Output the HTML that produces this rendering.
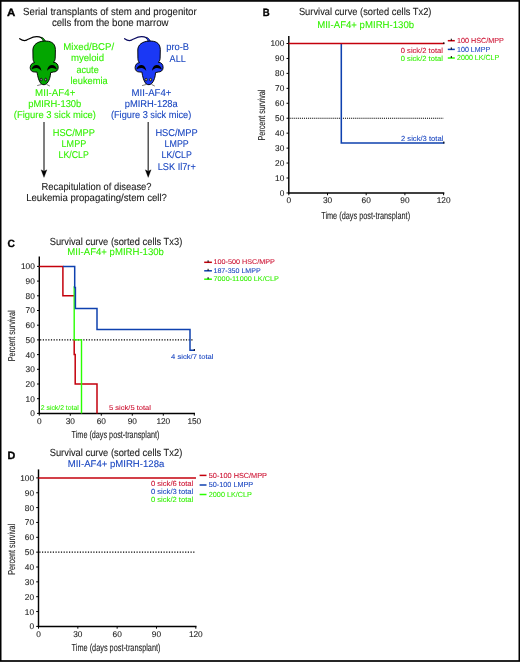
<!DOCTYPE html>
<html><head><meta charset="utf-8">
<style>
html,body{margin:0;padding:0;background:#fff;}
body{width:520px;height:662px;overflow:hidden;position:relative;}
svg{position:absolute;left:0;top:0;will-change:transform;text-rendering:geometricPrecision;font-family:"Liberation Sans",sans-serif;}
</style></head><body>
<svg width="520" height="662" viewBox="0 0 520 662">
<rect x="0.65" y="0.9" width="518.7" height="660.1" fill="none" stroke="#000" stroke-width="1.7"/>
<text x="6.90" y="16.40" font-size="10.5" fill="#000" stroke="#000" stroke-width="0.35" text-anchor="start" font-weight="bold" textLength="8.30" lengthAdjust="spacingAndGlyphs">A</text>
<text x="23.10" y="14.90" font-size="10.4" fill="#1a1a1a" stroke="#1a1a1a" stroke-width="0.1" text-anchor="start" font-weight="normal" textLength="173.60" lengthAdjust="spacingAndGlyphs">Serial transplants of stem and progenitor</text>
<text x="51.90" y="26.10" font-size="10.4" fill="#1a1a1a" stroke="#1a1a1a" stroke-width="0.1" text-anchor="start" font-weight="normal" textLength="116.70" lengthAdjust="spacingAndGlyphs">cells from the bone marrow</text>
<g transform="translate(0,0)">
<path d="M19.7 38.7 C22 40.3 24.3 41.1 26.6 40.1 C29.8 38.7 32.8 36.6 36.8 36.7 C40.3 36.8 42.8 37.9 44.2 40.8" stroke="#000" stroke-width="1.25" fill="none" stroke-linecap="round"/>
<path d="M41.6 37.3 C43.3 37.9 44.6 39.2 45.6 41.3 L43.2 41.6 C42.8 40 42.2 38.8 41.2 38.1 Z" fill="#03a600" stroke="#111" stroke-width="0.6"/>
<path d="M44.3 41.1 C49.8 40.8 55.2 42.3 55.4 49.5 L55.2 58.5 C55 60.5 54.2 61.7 53.4 62.3 C56.4 62.2 58.4 64.6 58.2 67.8 C58 70.6 56 72 53.4 72 L50.6 72.6 C50.6 76.2 49.2 81.2 46.8 83.5 C45.3 84.9 43 85.1 41.4 84 C39 82 37.6 76.2 37 72.1 L34.6 72 C31.9 72 30.1 70.4 30.2 67.6 C30.3 64.8 32 62.8 34.6 62.6 C33.6 61.6 33 60.3 33 58.5 L32.9 50 C32.9 44.8 37.5 41.3 44.3 41.1 Z" fill="#03a600" stroke="#000" stroke-width="0.95"/>
<path d="M31.5 69.8 C31.9 66.1 34.4 64.7 36.9 64.9 C39.3 65.2 40.9 67.2 41.4 71.0 C40 69.1 38.6 68.1 36.6 67.9 C34.6 67.8 32.9 68.5 31.5 69.8 Z" fill="#000"/>
<path d="M56.9 69.8 C56.5 66.1 54.0 64.7 51.5 64.9 C49.1 65.2 47.5 67.2 47.0 71.0 C48.4 69.1 49.8 68.1 51.8 67.9 C53.8 67.8 55.5 68.5 56.9 69.8 Z" fill="#000"/>
<ellipse cx="41.2" cy="79.6" rx="1.0" ry="1.35" fill="#a898a8" stroke="#000" stroke-width="0.75"/>
<ellipse cx="45.7" cy="79.6" rx="1.0" ry="1.35" fill="#a898a8" stroke="#000" stroke-width="0.75"/>
<path d="M37.2 85.6 L41.6 84.4 M46.6 84.4 L49.9 86.1" stroke="#222" stroke-width="0.6" fill="none"/>
</g>
<g transform="translate(104.9,0)">
<path d="M19.7 38.7 C22 40.3 24.3 41.1 26.6 40.1 C29.8 38.7 32.8 36.6 36.8 36.7 C40.3 36.8 42.8 37.9 44.2 40.8" stroke="#0a0a60" stroke-width="1.25" fill="none" stroke-linecap="round"/>
<path d="M41.6 37.3 C43.3 37.9 44.6 39.2 45.6 41.3 L43.2 41.6 C42.8 40 42.2 38.8 41.2 38.1 Z" fill="#1a38f5" stroke="#111" stroke-width="0.6"/>
<path d="M44.3 41.1 C49.8 40.8 55.2 42.3 55.4 49.5 L55.2 58.5 C55 60.5 54.2 61.7 53.4 62.3 C56.4 62.2 58.4 64.6 58.2 67.8 C58 70.6 56 72 53.4 72 L50.6 72.6 C50.6 76.2 49.2 81.2 46.8 83.5 C45.3 84.9 43 85.1 41.4 84 C39 82 37.6 76.2 37 72.1 L34.6 72 C31.9 72 30.1 70.4 30.2 67.6 C30.3 64.8 32 62.8 34.6 62.6 C33.6 61.6 33 60.3 33 58.5 L32.9 50 C32.9 44.8 37.5 41.3 44.3 41.1 Z" fill="#1a38f5" stroke="#000" stroke-width="0.95"/>
<path d="M31.5 69.8 C31.9 66.1 34.4 64.7 36.9 64.9 C39.3 65.2 40.9 67.2 41.4 71.0 C40 69.1 38.6 68.1 36.6 67.9 C34.6 67.8 32.9 68.5 31.5 69.8 Z" fill="#000"/>
<path d="M56.9 69.8 C56.5 66.1 54.0 64.7 51.5 64.9 C49.1 65.2 47.5 67.2 47.0 71.0 C48.4 69.1 49.8 68.1 51.8 67.9 C53.8 67.8 55.5 68.5 56.9 69.8 Z" fill="#000"/>
<ellipse cx="41.2" cy="79.6" rx="1.0" ry="1.35" fill="#d8c890" stroke="#000" stroke-width="0.75"/>
<ellipse cx="45.7" cy="79.6" rx="1.0" ry="1.35" fill="#d8c890" stroke="#000" stroke-width="0.75"/>
<path d="M37.2 85.6 L41.6 84.4 M46.6 84.4 L49.9 86.1" stroke="#222" stroke-width="0.6" fill="none"/>
</g>
<text x="63.30" y="50.10" font-size="9.9" fill="#33f000" stroke="#33f000" stroke-width="0.1" text-anchor="start" font-weight="normal" textLength="50.90" lengthAdjust="spacingAndGlyphs">Mixed/BCP/</text>
<text x="70.90" y="61.30" font-size="9.9" fill="#33f000" stroke="#33f000" stroke-width="0.1" text-anchor="start" font-weight="normal" textLength="33.20" lengthAdjust="spacingAndGlyphs">myeloid</text>
<text x="76.50" y="72.50" font-size="9.9" fill="#33f000" stroke="#33f000" stroke-width="0.1" text-anchor="start" font-weight="normal" textLength="22.20" lengthAdjust="spacingAndGlyphs">acute</text>
<text x="70.50" y="83.70" font-size="9.9" fill="#33f000" stroke="#33f000" stroke-width="0.1" text-anchor="start" font-weight="normal" textLength="37.30" lengthAdjust="spacingAndGlyphs">leukemia</text>
<text x="35.10" y="95.50" font-size="9.9" fill="#33f000" stroke="#33f000" stroke-width="0.1" text-anchor="start" font-weight="normal" textLength="40.30" lengthAdjust="spacingAndGlyphs">MII-AF4+</text>
<text x="28.20" y="106.90" font-size="9.9" fill="#33f000" stroke="#33f000" stroke-width="0.1" text-anchor="start" font-weight="normal" textLength="53.10" lengthAdjust="spacingAndGlyphs">pMIRH-130b</text>
<text x="13.80" y="118.30" font-size="9.9" fill="#33f000" stroke="#33f000" stroke-width="0.1" text-anchor="start" font-weight="normal" textLength="82.20" lengthAdjust="spacingAndGlyphs">(Figure 3 sick mice)</text>
<text x="166.20" y="50.40" font-size="9.9" fill="#1a46c0" stroke="#1a46c0" stroke-width="0.1" text-anchor="start" font-weight="normal" textLength="22.90" lengthAdjust="spacingAndGlyphs">pro-B</text>
<text x="169.60" y="61.50" font-size="9.9" fill="#1a46c0" stroke="#1a46c0" stroke-width="0.1" text-anchor="start" font-weight="normal" textLength="16.20" lengthAdjust="spacingAndGlyphs">ALL</text>
<text x="131.60" y="95.50" font-size="9.9" fill="#1a46c0" stroke="#1a46c0" stroke-width="0.1" text-anchor="start" font-weight="normal" textLength="39.80" lengthAdjust="spacingAndGlyphs">MII-AF4+</text>
<text x="124.70" y="106.90" font-size="9.9" fill="#1a46c0" stroke="#1a46c0" stroke-width="0.1" text-anchor="start" font-weight="normal" textLength="53.10" lengthAdjust="spacingAndGlyphs">pMIRH-128a</text>
<text x="110.90" y="118.30" font-size="9.9" fill="#1a46c0" stroke="#1a46c0" stroke-width="0.1" text-anchor="start" font-weight="normal" textLength="80.40" lengthAdjust="spacingAndGlyphs">(Figure 3 sick mice)</text>
<line x1="44.00" y1="122.00" x2="44.00" y2="171.00" stroke="#3a3a3a" stroke-width="1.3"/>
<path d="M41.10 169.8 L44.00 171.3 L46.90 169.8 L44.00 177.4 Z" fill="#000" stroke="#000" stroke-width="0.3"/>
<line x1="148.20" y1="122.00" x2="148.20" y2="171.00" stroke="#3a3a3a" stroke-width="1.3"/>
<path d="M145.30 169.8 L148.20 171.3 L151.10 169.8 L148.20 177.4 Z" fill="#000" stroke="#000" stroke-width="0.3"/>
<text x="52.70" y="135.80" font-size="9.9" fill="#33f000" stroke="#33f000" stroke-width="0.1" text-anchor="start" font-weight="normal" textLength="42.30" lengthAdjust="spacingAndGlyphs">HSC/MPP</text>
<text x="61.60" y="147.00" font-size="9.9" fill="#33f000" stroke="#33f000" stroke-width="0.1" text-anchor="start" font-weight="normal" textLength="24.60" lengthAdjust="spacingAndGlyphs">LMPP</text>
<text x="58.50" y="158.40" font-size="9.9" fill="#33f000" stroke="#33f000" stroke-width="0.1" text-anchor="start" font-weight="normal" textLength="30.30" lengthAdjust="spacingAndGlyphs">LK/CLP</text>
<text x="155.40" y="135.80" font-size="9.9" fill="#1a46c0" stroke="#1a46c0" stroke-width="0.1" text-anchor="start" font-weight="normal" textLength="42.30" lengthAdjust="spacingAndGlyphs">HSC/MPP</text>
<text x="164.60" y="147.00" font-size="9.9" fill="#1a46c0" stroke="#1a46c0" stroke-width="0.1" text-anchor="start" font-weight="normal" textLength="24.20" lengthAdjust="spacingAndGlyphs">LMPP</text>
<text x="161.50" y="158.40" font-size="9.9" fill="#1a46c0" stroke="#1a46c0" stroke-width="0.1" text-anchor="start" font-weight="normal" textLength="30.30" lengthAdjust="spacingAndGlyphs">LK/CLP</text>
<text x="157.70" y="169.60" font-size="9.9" fill="#1a46c0" stroke="#1a46c0" stroke-width="0.1" text-anchor="start" font-weight="normal" textLength="38.10" lengthAdjust="spacingAndGlyphs">LSK Il7r+</text>
<text x="41.50" y="189.60" font-size="10.2" fill="#1a1a1a" stroke="#1a1a1a" stroke-width="0.1" text-anchor="start" font-weight="normal" textLength="110.00" lengthAdjust="spacingAndGlyphs">Recapitulation of disease?</text>
<text x="26.20" y="200.90" font-size="10.2" fill="#1a1a1a" stroke="#1a1a1a" stroke-width="0.1" text-anchor="start" font-weight="normal" textLength="140.70" lengthAdjust="spacingAndGlyphs">Leukemia propagating/stem cell?</text>
<text x="262.80" y="16.40" font-size="10.5" fill="#000" stroke="#000" stroke-width="0.35" text-anchor="start" font-weight="bold" textLength="6.90" lengthAdjust="spacingAndGlyphs">B</text>
<text x="298.90" y="15.10" font-size="10.3" fill="#1a1a1a" stroke="#1a1a1a" stroke-width="0.1" text-anchor="start" font-weight="normal" textLength="132.60" lengthAdjust="spacingAndGlyphs">Survival curve (sorted cells Tx2)</text>
<text x="317.20" y="27.80" font-size="9.7" fill="#33f000" stroke="#33f000" stroke-width="0.1" text-anchor="start" font-weight="normal" textLength="96.90" lengthAdjust="spacingAndGlyphs">MII-AF4+ pMIRH-130b</text>
<line x1="288.80" y1="36.00" x2="288.80" y2="193.65" stroke="#000" stroke-width="1.45"/>
<line x1="288.10" y1="192.95" x2="444.30" y2="192.95" stroke="#000" stroke-width="1.45"/>
<line x1="286.50" y1="192.95" x2="288.80" y2="192.95" stroke="#000" stroke-width="1.0"/>
<text x="284.30" y="195.90" font-size="8.3" fill="#222" stroke="#222" stroke-width="0.1" text-anchor="end" font-weight="normal">0</text>
<line x1="286.50" y1="178.00" x2="288.80" y2="178.00" stroke="#000" stroke-width="1.0"/>
<text x="284.30" y="180.95" font-size="8.3" fill="#222" stroke="#222" stroke-width="0.1" text-anchor="end" font-weight="normal">10</text>
<line x1="286.50" y1="163.06" x2="288.80" y2="163.06" stroke="#000" stroke-width="1.0"/>
<text x="284.30" y="166.01" font-size="8.3" fill="#222" stroke="#222" stroke-width="0.1" text-anchor="end" font-weight="normal">20</text>
<line x1="286.50" y1="148.11" x2="288.80" y2="148.11" stroke="#000" stroke-width="1.0"/>
<text x="284.30" y="151.06" font-size="8.3" fill="#222" stroke="#222" stroke-width="0.1" text-anchor="end" font-weight="normal">30</text>
<line x1="286.50" y1="133.17" x2="288.80" y2="133.17" stroke="#000" stroke-width="1.0"/>
<text x="284.30" y="136.12" font-size="8.3" fill="#222" stroke="#222" stroke-width="0.1" text-anchor="end" font-weight="normal">40</text>
<line x1="286.50" y1="118.22" x2="288.80" y2="118.22" stroke="#000" stroke-width="1.0"/>
<text x="284.30" y="121.17" font-size="8.3" fill="#222" stroke="#222" stroke-width="0.1" text-anchor="end" font-weight="normal">50</text>
<line x1="286.50" y1="103.28" x2="288.80" y2="103.28" stroke="#000" stroke-width="1.0"/>
<text x="284.30" y="106.23" font-size="8.3" fill="#222" stroke="#222" stroke-width="0.1" text-anchor="end" font-weight="normal">60</text>
<line x1="286.50" y1="88.33" x2="288.80" y2="88.33" stroke="#000" stroke-width="1.0"/>
<text x="284.30" y="91.28" font-size="8.3" fill="#222" stroke="#222" stroke-width="0.1" text-anchor="end" font-weight="normal">70</text>
<line x1="286.50" y1="73.39" x2="288.80" y2="73.39" stroke="#000" stroke-width="1.0"/>
<text x="284.30" y="76.34" font-size="8.3" fill="#222" stroke="#222" stroke-width="0.1" text-anchor="end" font-weight="normal">80</text>
<line x1="286.50" y1="58.44" x2="288.80" y2="58.44" stroke="#000" stroke-width="1.0"/>
<text x="284.30" y="61.39" font-size="8.3" fill="#222" stroke="#222" stroke-width="0.1" text-anchor="end" font-weight="normal">90</text>
<line x1="286.50" y1="43.50" x2="288.80" y2="43.50" stroke="#000" stroke-width="1.0"/>
<text x="284.30" y="46.45" font-size="8.3" fill="#222" stroke="#222" stroke-width="0.1" text-anchor="end" font-weight="normal">100</text>
<line x1="288.80" y1="192.95" x2="288.80" y2="195.25" stroke="#000" stroke-width="1.0"/>
<text x="288.80" y="203.00" font-size="8.3" fill="#222" stroke="#222" stroke-width="0.1" text-anchor="middle" font-weight="normal">0</text>
<line x1="327.50" y1="192.95" x2="327.50" y2="195.25" stroke="#000" stroke-width="1.0"/>
<text x="327.50" y="203.00" font-size="8.3" fill="#222" stroke="#222" stroke-width="0.1" text-anchor="middle" font-weight="normal">30</text>
<line x1="366.20" y1="192.95" x2="366.20" y2="195.25" stroke="#000" stroke-width="1.0"/>
<text x="366.20" y="203.00" font-size="8.3" fill="#222" stroke="#222" stroke-width="0.1" text-anchor="middle" font-weight="normal">60</text>
<line x1="404.90" y1="192.95" x2="404.90" y2="195.25" stroke="#000" stroke-width="1.0"/>
<text x="404.90" y="203.00" font-size="8.3" fill="#222" stroke="#222" stroke-width="0.1" text-anchor="middle" font-weight="normal">90</text>
<line x1="443.60" y1="192.95" x2="443.60" y2="195.25" stroke="#000" stroke-width="1.0"/>
<text x="443.60" y="203.00" font-size="8.3" fill="#222" stroke="#222" stroke-width="0.1" text-anchor="middle" font-weight="normal">120</text>
<text x="321.20" y="218.90" font-size="10.2" fill="#222" stroke="#222" stroke-width="0.1" text-anchor="start" font-weight="normal" textLength="88.90" lengthAdjust="spacingAndGlyphs">Time (days post-transplant)</text>
<text transform="translate(265.10,140.40) rotate(-90)" font-size="10.0" fill="#222" stroke="#222" stroke-width="0.1" textLength="50.70" lengthAdjust="spacingAndGlyphs">Percent survival</text>
<line x1="289.60" y1="118.22" x2="443.60" y2="118.22" stroke="#000" stroke-width="1.1" stroke-dasharray="1.1 0.95"/>
<path d="M341.3 44.30 L341.3 142.9 L443.60 142.9" stroke="#0f41af" stroke-width="1.55" fill="none" stroke-linejoin="miter" stroke-linecap="square"/>
<path d="M289.50 43.50 L443.60 43.50" stroke="#c4000c" stroke-width="1.55" fill="none" stroke-linejoin="miter" stroke-linecap="square"/>
<line x1="443.80" y1="42.20" x2="443.80" y2="44.10" stroke="#000" stroke-width="1.1"/>
<line x1="443.80" y1="141.60" x2="443.80" y2="143.50" stroke="#000" stroke-width="1.1"/>
<text x="400.80" y="52.90" font-size="7.4" fill="#cc1030" stroke="#cc1030" stroke-width="0.08" text-anchor="start" font-weight="normal" textLength="42.10" lengthAdjust="spacingAndGlyphs">0 sick/2 total</text>
<text x="400.80" y="61.00" font-size="7.4" fill="#33f000" stroke="#33f000" stroke-width="0.08" text-anchor="start" font-weight="normal" textLength="42.10" lengthAdjust="spacingAndGlyphs">0 sick/2 total</text>
<text x="401.00" y="140.60" font-size="7.4" fill="#1a46c0" stroke="#1a46c0" stroke-width="0.08" text-anchor="start" font-weight="normal" textLength="42.30" lengthAdjust="spacingAndGlyphs">2 sick/3 total</text>
<line x1="447.80" y1="40.70" x2="454.80" y2="40.70" stroke="#c4000c" stroke-width="1.5"/>
<line x1="451.30" y1="38.70" x2="451.30" y2="40.70" stroke="#000" stroke-width="1.0"/>
<text x="457.10" y="42.80" font-size="7.4" fill="#cc1030" stroke="#cc1030" stroke-width="0.08" text-anchor="start" font-weight="normal" textLength="46.70" lengthAdjust="spacingAndGlyphs">100 HSC/MPP</text>
<line x1="447.80" y1="49.40" x2="454.80" y2="49.40" stroke="#0f41af" stroke-width="1.5"/>
<line x1="451.30" y1="47.40" x2="451.30" y2="49.40" stroke="#000" stroke-width="1.0"/>
<text x="457.10" y="51.50" font-size="7.4" fill="#1a46c0" stroke="#1a46c0" stroke-width="0.08" text-anchor="start" font-weight="normal" textLength="33.00" lengthAdjust="spacingAndGlyphs">100 LMPP</text>
<line x1="447.80" y1="58.00" x2="454.80" y2="58.00" stroke="#2aff00" stroke-width="1.5"/>
<line x1="451.30" y1="56.00" x2="451.30" y2="58.00" stroke="#000" stroke-width="1.0"/>
<text x="457.10" y="60.10" font-size="7.4" fill="#33f000" stroke="#33f000" stroke-width="0.08" text-anchor="start" font-weight="normal" textLength="42.20" lengthAdjust="spacingAndGlyphs">2000 LK/CLP</text>
<text x="7.40" y="247.20" font-size="10.5" fill="#000" stroke="#000" stroke-width="0.35" text-anchor="start" font-weight="bold" textLength="7.40" lengthAdjust="spacingAndGlyphs">C</text>
<text x="49.70" y="244.60" font-size="10.3" fill="#1a1a1a" stroke="#1a1a1a" stroke-width="0.1" text-anchor="start" font-weight="normal" textLength="132.60" lengthAdjust="spacingAndGlyphs">Survival curve (sorted cells Tx3)</text>
<text x="67.30" y="255.40" font-size="9.7" fill="#33f000" stroke="#33f000" stroke-width="0.1" text-anchor="start" font-weight="normal" textLength="96.60" lengthAdjust="spacingAndGlyphs">MII-AF4+ pMIRH-130b</text>
<line x1="39.30" y1="256.50" x2="39.30" y2="414.10" stroke="#000" stroke-width="1.45"/>
<line x1="38.60" y1="413.40" x2="195.00" y2="413.40" stroke="#000" stroke-width="1.45"/>
<line x1="37.00" y1="413.40" x2="39.30" y2="413.40" stroke="#000" stroke-width="1.0"/>
<text x="34.80" y="416.35" font-size="8.3" fill="#222" stroke="#222" stroke-width="0.1" text-anchor="end" font-weight="normal">0</text>
<line x1="37.00" y1="398.70" x2="39.30" y2="398.70" stroke="#000" stroke-width="1.0"/>
<text x="34.80" y="401.65" font-size="8.3" fill="#222" stroke="#222" stroke-width="0.1" text-anchor="end" font-weight="normal">10</text>
<line x1="37.00" y1="384.00" x2="39.30" y2="384.00" stroke="#000" stroke-width="1.0"/>
<text x="34.80" y="386.95" font-size="8.3" fill="#222" stroke="#222" stroke-width="0.1" text-anchor="end" font-weight="normal">20</text>
<line x1="37.00" y1="369.30" x2="39.30" y2="369.30" stroke="#000" stroke-width="1.0"/>
<text x="34.80" y="372.25" font-size="8.3" fill="#222" stroke="#222" stroke-width="0.1" text-anchor="end" font-weight="normal">30</text>
<line x1="37.00" y1="354.60" x2="39.30" y2="354.60" stroke="#000" stroke-width="1.0"/>
<text x="34.80" y="357.55" font-size="8.3" fill="#222" stroke="#222" stroke-width="0.1" text-anchor="end" font-weight="normal">40</text>
<line x1="37.00" y1="339.90" x2="39.30" y2="339.90" stroke="#000" stroke-width="1.0"/>
<text x="34.80" y="342.85" font-size="8.3" fill="#222" stroke="#222" stroke-width="0.1" text-anchor="end" font-weight="normal">50</text>
<line x1="37.00" y1="325.20" x2="39.30" y2="325.20" stroke="#000" stroke-width="1.0"/>
<text x="34.80" y="328.15" font-size="8.3" fill="#222" stroke="#222" stroke-width="0.1" text-anchor="end" font-weight="normal">60</text>
<line x1="37.00" y1="310.50" x2="39.30" y2="310.50" stroke="#000" stroke-width="1.0"/>
<text x="34.80" y="313.45" font-size="8.3" fill="#222" stroke="#222" stroke-width="0.1" text-anchor="end" font-weight="normal">70</text>
<line x1="37.00" y1="295.80" x2="39.30" y2="295.80" stroke="#000" stroke-width="1.0"/>
<text x="34.80" y="298.75" font-size="8.3" fill="#222" stroke="#222" stroke-width="0.1" text-anchor="end" font-weight="normal">80</text>
<line x1="37.00" y1="281.10" x2="39.30" y2="281.10" stroke="#000" stroke-width="1.0"/>
<text x="34.80" y="284.05" font-size="8.3" fill="#222" stroke="#222" stroke-width="0.1" text-anchor="end" font-weight="normal">90</text>
<line x1="37.00" y1="266.40" x2="39.30" y2="266.40" stroke="#000" stroke-width="1.0"/>
<text x="34.80" y="269.35" font-size="8.3" fill="#222" stroke="#222" stroke-width="0.1" text-anchor="end" font-weight="normal">100</text>
<line x1="39.30" y1="413.40" x2="39.30" y2="415.70" stroke="#000" stroke-width="1.0"/>
<text x="39.30" y="424.30" font-size="8.3" fill="#222" stroke="#222" stroke-width="0.1" text-anchor="middle" font-weight="normal">0</text>
<line x1="70.30" y1="413.40" x2="70.30" y2="415.70" stroke="#000" stroke-width="1.0"/>
<text x="70.30" y="424.30" font-size="8.3" fill="#222" stroke="#222" stroke-width="0.1" text-anchor="middle" font-weight="normal">30</text>
<line x1="101.30" y1="413.40" x2="101.30" y2="415.70" stroke="#000" stroke-width="1.0"/>
<text x="101.30" y="424.30" font-size="8.3" fill="#222" stroke="#222" stroke-width="0.1" text-anchor="middle" font-weight="normal">60</text>
<line x1="132.30" y1="413.40" x2="132.30" y2="415.70" stroke="#000" stroke-width="1.0"/>
<text x="132.30" y="424.30" font-size="8.3" fill="#222" stroke="#222" stroke-width="0.1" text-anchor="middle" font-weight="normal">90</text>
<line x1="163.30" y1="413.40" x2="163.30" y2="415.70" stroke="#000" stroke-width="1.0"/>
<text x="163.30" y="424.30" font-size="8.3" fill="#222" stroke="#222" stroke-width="0.1" text-anchor="middle" font-weight="normal">120</text>
<line x1="194.30" y1="413.40" x2="194.30" y2="415.70" stroke="#000" stroke-width="1.0"/>
<text x="194.30" y="424.30" font-size="8.3" fill="#222" stroke="#222" stroke-width="0.1" text-anchor="middle" font-weight="normal">150</text>
<text x="71.60" y="437.80" font-size="10.2" fill="#222" stroke="#222" stroke-width="0.1" text-anchor="start" font-weight="normal" textLength="87.80" lengthAdjust="spacingAndGlyphs">Time (days post-transplant)</text>
<text transform="translate(15.10,361.30) rotate(-90)" font-size="10.0" fill="#222" stroke="#222" stroke-width="0.1" textLength="50.80" lengthAdjust="spacingAndGlyphs">Percent survival</text>
<line x1="40.10" y1="339.90" x2="193.7" y2="339.90" stroke="#000" stroke-width="1.2" stroke-dasharray="1.2 1.5"/>
<path d="M40.00 266.40 L62.9 266.40 L62.9 295.80 L73.5 295.80" stroke="#c4000c" stroke-width="1.5" fill="none" stroke-linejoin="miter" stroke-linecap="square"/>
<path d="M74.2 339.90 L74.2 354.60 L75.2 354.60 L75.2 384.00 L97.0 384.00 L97.0 412.70" stroke="#c4000c" stroke-width="1.5" fill="none" stroke-linejoin="miter" stroke-linecap="square"/>
<path d="M74.2 286.98 L74.2 339.90 L81.5 339.90 L81.5 412.70" stroke="#2aff00" stroke-width="1.4" fill="none" stroke-linejoin="miter" stroke-linecap="square"/>
<path d="M63.7 266.40 L74.7 266.40 L74.7 287.42 L75.4 287.42 L75.4 308.44 L97.0 308.44 L97.0 329.46 L190.0 329.46 L190.0 350.34 L194.1 350.34" stroke="#0f41af" stroke-width="1.5" fill="none" stroke-linejoin="miter" stroke-linecap="square"/>
<line x1="194.30" y1="349.04" x2="194.30" y2="350.84" stroke="#000" stroke-width="1.1"/>
<text x="40.80" y="409.60" font-size="7.0" fill="#33f000" stroke="#33f000" stroke-width="0.08" text-anchor="start" font-weight="normal" textLength="38.00" lengthAdjust="spacingAndGlyphs">2 sick/2 total</text>
<text x="109.00" y="409.50" font-size="7.0" fill="#cc1030" stroke="#cc1030" stroke-width="0.08" text-anchor="start" font-weight="normal" textLength="42.00" lengthAdjust="spacingAndGlyphs">5 sick/5 total</text>
<text x="171.10" y="359.00" font-size="7.0" fill="#1a46c0" stroke="#1a46c0" stroke-width="0.08" text-anchor="start" font-weight="normal" textLength="42.40" lengthAdjust="spacingAndGlyphs">4 sick/7 total</text>
<line x1="204.20" y1="262.30" x2="211.90" y2="262.30" stroke="#c4000c" stroke-width="1.5"/>
<line x1="208.10" y1="260.30" x2="208.10" y2="262.30" stroke="#000" stroke-width="1.0"/>
<text x="213.50" y="264.30" font-size="6.9" fill="#cc1030" stroke="#cc1030" stroke-width="0.08" text-anchor="start" font-weight="normal" textLength="61.40" lengthAdjust="spacingAndGlyphs">100-500 HSC/MPP</text>
<line x1="204.20" y1="270.80" x2="211.90" y2="270.80" stroke="#0f41af" stroke-width="1.5"/>
<line x1="208.10" y1="268.80" x2="208.10" y2="270.80" stroke="#000" stroke-width="1.0"/>
<text x="213.50" y="272.80" font-size="6.9" fill="#1a46c0" stroke="#1a46c0" stroke-width="0.08" text-anchor="start" font-weight="normal" textLength="47.20" lengthAdjust="spacingAndGlyphs">187-350 LMPP</text>
<line x1="204.20" y1="279.20" x2="211.90" y2="279.20" stroke="#2aff00" stroke-width="1.5"/>
<line x1="208.10" y1="277.20" x2="208.10" y2="279.20" stroke="#000" stroke-width="1.0"/>
<text x="213.50" y="281.20" font-size="6.9" fill="#33f000" stroke="#33f000" stroke-width="0.08" text-anchor="start" font-weight="normal" textLength="65.40" lengthAdjust="spacingAndGlyphs">7000-11000 LK/CLP</text>
<text x="7.40" y="458.80" font-size="10.5" fill="#000" stroke="#000" stroke-width="0.35" text-anchor="start" font-weight="bold" textLength="7.80" lengthAdjust="spacingAndGlyphs">D</text>
<text x="49.70" y="455.90" font-size="10.3" fill="#1a1a1a" stroke="#1a1a1a" stroke-width="0.1" text-anchor="start" font-weight="normal" textLength="132.60" lengthAdjust="spacingAndGlyphs">Survival curve (sorted cells Tx2)</text>
<text x="67.70" y="466.80" font-size="9.7" fill="#1a46c0" stroke="#1a46c0" stroke-width="0.1" text-anchor="start" font-weight="normal" textLength="96.60" lengthAdjust="spacingAndGlyphs">MII-AF4+ pMIRH-128a</text>
<line x1="38.50" y1="469.40" x2="38.50" y2="627.10" stroke="#000" stroke-width="1.45"/>
<line x1="37.80" y1="626.40" x2="196.50" y2="626.40" stroke="#000" stroke-width="1.45"/>
<line x1="36.20" y1="626.40" x2="38.50" y2="626.40" stroke="#000" stroke-width="1.0"/>
<text x="34.00" y="629.35" font-size="8.3" fill="#222" stroke="#222" stroke-width="0.1" text-anchor="end" font-weight="normal">0</text>
<line x1="36.20" y1="611.55" x2="38.50" y2="611.55" stroke="#000" stroke-width="1.0"/>
<text x="34.00" y="614.50" font-size="8.3" fill="#222" stroke="#222" stroke-width="0.1" text-anchor="end" font-weight="normal">10</text>
<line x1="36.20" y1="596.70" x2="38.50" y2="596.70" stroke="#000" stroke-width="1.0"/>
<text x="34.00" y="599.65" font-size="8.3" fill="#222" stroke="#222" stroke-width="0.1" text-anchor="end" font-weight="normal">20</text>
<line x1="36.20" y1="581.85" x2="38.50" y2="581.85" stroke="#000" stroke-width="1.0"/>
<text x="34.00" y="584.80" font-size="8.3" fill="#222" stroke="#222" stroke-width="0.1" text-anchor="end" font-weight="normal">30</text>
<line x1="36.20" y1="567.00" x2="38.50" y2="567.00" stroke="#000" stroke-width="1.0"/>
<text x="34.00" y="569.95" font-size="8.3" fill="#222" stroke="#222" stroke-width="0.1" text-anchor="end" font-weight="normal">40</text>
<line x1="36.20" y1="552.15" x2="38.50" y2="552.15" stroke="#000" stroke-width="1.0"/>
<text x="34.00" y="555.10" font-size="8.3" fill="#222" stroke="#222" stroke-width="0.1" text-anchor="end" font-weight="normal">50</text>
<line x1="36.20" y1="537.30" x2="38.50" y2="537.30" stroke="#000" stroke-width="1.0"/>
<text x="34.00" y="540.25" font-size="8.3" fill="#222" stroke="#222" stroke-width="0.1" text-anchor="end" font-weight="normal">60</text>
<line x1="36.20" y1="522.45" x2="38.50" y2="522.45" stroke="#000" stroke-width="1.0"/>
<text x="34.00" y="525.40" font-size="8.3" fill="#222" stroke="#222" stroke-width="0.1" text-anchor="end" font-weight="normal">70</text>
<line x1="36.20" y1="507.60" x2="38.50" y2="507.60" stroke="#000" stroke-width="1.0"/>
<text x="34.00" y="510.55" font-size="8.3" fill="#222" stroke="#222" stroke-width="0.1" text-anchor="end" font-weight="normal">80</text>
<line x1="36.20" y1="492.75" x2="38.50" y2="492.75" stroke="#000" stroke-width="1.0"/>
<text x="34.00" y="495.70" font-size="8.3" fill="#222" stroke="#222" stroke-width="0.1" text-anchor="end" font-weight="normal">90</text>
<line x1="36.20" y1="477.90" x2="38.50" y2="477.90" stroke="#000" stroke-width="1.0"/>
<text x="34.00" y="480.85" font-size="8.3" fill="#222" stroke="#222" stroke-width="0.1" text-anchor="end" font-weight="normal">100</text>
<line x1="38.50" y1="626.40" x2="38.50" y2="628.70" stroke="#000" stroke-width="1.0"/>
<text x="38.50" y="637.10" font-size="8.3" fill="#222" stroke="#222" stroke-width="0.1" text-anchor="middle" font-weight="normal">0</text>
<line x1="77.83" y1="626.40" x2="77.83" y2="628.70" stroke="#000" stroke-width="1.0"/>
<text x="77.83" y="637.10" font-size="8.3" fill="#222" stroke="#222" stroke-width="0.1" text-anchor="middle" font-weight="normal">30</text>
<line x1="117.15" y1="626.40" x2="117.15" y2="628.70" stroke="#000" stroke-width="1.0"/>
<text x="117.15" y="637.10" font-size="8.3" fill="#222" stroke="#222" stroke-width="0.1" text-anchor="middle" font-weight="normal">60</text>
<line x1="156.48" y1="626.40" x2="156.48" y2="628.70" stroke="#000" stroke-width="1.0"/>
<text x="156.48" y="637.10" font-size="8.3" fill="#222" stroke="#222" stroke-width="0.1" text-anchor="middle" font-weight="normal">90</text>
<line x1="195.80" y1="626.40" x2="195.80" y2="628.70" stroke="#000" stroke-width="1.0"/>
<text x="195.80" y="637.10" font-size="8.3" fill="#222" stroke="#222" stroke-width="0.1" text-anchor="middle" font-weight="normal">120</text>
<text x="71.60" y="651.40" font-size="10.2" fill="#222" stroke="#222" stroke-width="0.1" text-anchor="start" font-weight="normal" textLength="88.90" lengthAdjust="spacingAndGlyphs">Time (days post-transplant)</text>
<text transform="translate(15.10,574.70) rotate(-90)" font-size="10.0" fill="#222" stroke="#222" stroke-width="0.1" textLength="50.80" lengthAdjust="spacingAndGlyphs">Percent survival</text>
<line x1="39.30" y1="552.15" x2="195.4" y2="552.15" stroke="#000" stroke-width="1.2" stroke-dasharray="1.2 1.5"/>
<path d="M39.20 477.90 L195.20 477.90" stroke="#c4000c" stroke-width="1.55" fill="none" stroke-linejoin="miter" stroke-linecap="square"/>
<text x="150.90" y="485.60" font-size="7.4" fill="#cc1030" stroke="#cc1030" stroke-width="0.08" text-anchor="start" font-weight="normal" textLength="42.40" lengthAdjust="spacingAndGlyphs">0 sick/6 total</text>
<text x="150.90" y="493.60" font-size="7.4" fill="#1a46c0" stroke="#1a46c0" stroke-width="0.08" text-anchor="start" font-weight="normal" textLength="42.40" lengthAdjust="spacingAndGlyphs">0 sick/3 total</text>
<text x="150.90" y="501.70" font-size="7.4" fill="#33f000" stroke="#33f000" stroke-width="0.08" text-anchor="start" font-weight="normal" textLength="42.40" lengthAdjust="spacingAndGlyphs">0 sick/2 total</text>
<line x1="199.60" y1="475.40" x2="206.50" y2="475.40" stroke="#c4000c" stroke-width="1.5"/>
<text x="208.80" y="477.60" font-size="7.3" fill="#cc1030" stroke="#cc1030" stroke-width="0.08" text-anchor="start" font-weight="normal" textLength="58.20" lengthAdjust="spacingAndGlyphs">50-100 HSC/MPP</text>
<line x1="199.60" y1="485.00" x2="206.50" y2="485.00" stroke="#0f41af" stroke-width="1.5"/>
<text x="208.80" y="487.20" font-size="7.3" fill="#1a46c0" stroke="#1a46c0" stroke-width="0.08" text-anchor="start" font-weight="normal" textLength="44.40" lengthAdjust="spacingAndGlyphs">50-100 LMPP</text>
<line x1="199.60" y1="494.50" x2="206.50" y2="494.50" stroke="#2aff00" stroke-width="1.5"/>
<text x="208.80" y="496.70" font-size="7.3" fill="#33f000" stroke="#33f000" stroke-width="0.08" text-anchor="start" font-weight="normal" textLength="43.10" lengthAdjust="spacingAndGlyphs">2000 LK/CLP</text>
</svg>
</body></html>
